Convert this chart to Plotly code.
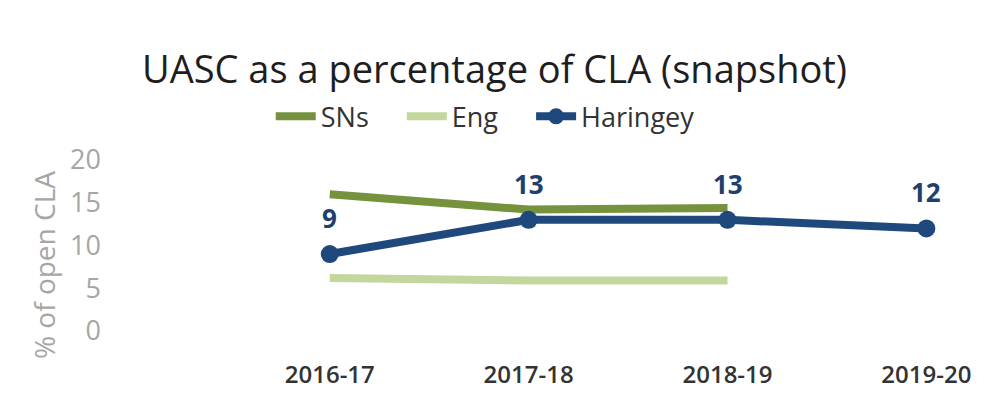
import plotly.graph_objects as go

# Reporting years on the category axis
years = ["2016-17", "2017-18", "2018-19", "2019-20"]

# UASC as a percentage of children looked after
sns_vals = [16.0, 14.2, 14.4, None]
eng_vals = [6.2, 5.9, 5.9, None]
haringey_vals = [9, 13, 13, 12]

# Legend entries are padded with non-breaking spaces to spread them out
PAD = "\u00a0" * 4

fig = go.Figure()

fig.add_trace(go.Scatter(
    x=years, y=sns_vals, name="SNs" + PAD, mode="lines",
    line=dict(color="#76923c", width=8),
))
fig.add_trace(go.Scatter(
    x=years, y=eng_vals, name="Eng" + PAD, mode="lines",
    line=dict(color="#c3d69b", width=8),
))
fig.add_trace(go.Scatter(
    x=years, y=haringey_vals, name="Haringey", mode="lines+markers",
    line=dict(color="#1f497d", width=8),
    marker=dict(color="#1f497d", size=18),
))

# Value labels above the Haringey points
for yr, v in zip(years, haringey_vals):
    fig.add_annotation(
        x=yr, y=v, text=str(v), showarrow=False, yshift=36,
        font=dict(family="Open Sans", size=26, color="#1f3f6e", weight="bold"),
    )

# Rotated y-axis title
fig.add_annotation(
    xref="paper", yref="paper", x=-0.081, y=0.395,
    xanchor="center", yanchor="middle", textangle=-90, showarrow=False,
    text="% of open CLA",
    font=dict(family="Open Sans", size=28, color="#a6a6a6"),
)

fig.update_layout(
    width=999, height=416,
    paper_bgcolor="white", plot_bgcolor="white",
    margin=dict(l=115, r=9, t=150, b=76),
    title=dict(
        text="UASC as a percentage of CLA (snapshot)",
        x=0.495, xanchor="center", y=0.832, yanchor="middle",
        font=dict(family="Open Sans", size=38, color="#1e1e1e"),
    ),
    legend=dict(
        orientation="h", x=0.178, xanchor="left", y=1.175, yanchor="middle",
        font=dict(family="Open Sans", size=27, color="#333333"),
        itemwidth=40, tracegroupgap=0,
    ),
    showlegend=True,
)

fig.update_xaxes(
    type="category", range=[-1.08, 3.32],
    showgrid=False, showline=False, zeroline=False, ticks="",
    tickfont=dict(family="Open Sans", size=24, color="#333333", weight=600),
    ticklabelstandoff=18,
)
fig.update_yaxes(
    range=[-1.05, 21.17], tickvals=[0, 5, 10, 15, 20],
    showgrid=False, showline=False, zeroline=False, ticks="",
    tickfont=dict(family="Open Sans", size=27, color="#a6a6a6"),
    ticklabelstandoff=13,
)

fig.write_html("out.html")
